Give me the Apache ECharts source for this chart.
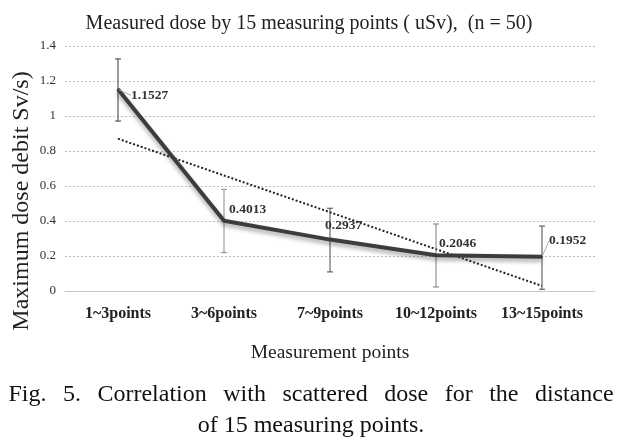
<!DOCTYPE html>
<html><head><meta charset="utf-8">
<script src="https://cdn.jsdelivr.net/npm/echarts@6/dist/echarts.min.js"></script>
<style>html,body{margin:0;padding:0;background:#fff}#c{width:622px;height:443px}</style>
</head><body><div id="c"></div>
<script>
var categories = ['1~3points', '3~6points', '7~9points', '10~12points', '13~15points'];
var doseValues = [1.1527, 0.4013, 0.2937, 0.2046, 0.1952];
var errLow = [0.971, 0.219, 0.109, 0.023, 0.010];
var errHigh = [1.326, 0.581, 0.473, 0.383, 0.371];
var trendValues = [0.870, 0.660, 0.450, 0.239, 0.029];
var yTicks = [0, 0.2, 0.4, 0.6, 0.8, 1, 1.2, 1.4];
var errColors = ['#3a3a3a', '#8a8a8a', '#4a4a4a', '#7a7a7a', '#4a4a4a'];
var labelOffsets = [[12, 6], [4, -11], [-6, -14], [2, -12], [6, -16]];
var leaderShown = [true, false, false, false, true];
var captionLine1 = ['Fig.', '5.', 'Correlation', 'with', 'scattered', 'dose', 'for', 'the', 'distance'];
var captionLine2 = 'of 15 measuring points.';

var serif = '"Liberation Serif", "Times New Roman", serif';
var chart = echarts.init(document.getElementById('c'));

var errData = categories.map(function (c, i) { return [i, errLow[i], errHigh[i]]; });

chart.setOption({
  animation: false,
  title: {
    text: 'Measured dose by 15 measuring points ( uSv),  (n = 50)',
    left: 304, top: 9, textAlign: 'center',
    textStyle: { fontFamily: serif, fontSize: 20, fontWeight: 'normal', color: '#222' }
  },
  grid: { left: 65, right: 27, top: 46, bottom: 152 },
  xAxis: {
    type: 'category', data: categories, boundaryGap: true,
    axisLine: { lineStyle: { color: '#c8c8c8' } },
    axisTick: { show: false },
    axisLabel: { interval: 0, hideOverlap: false, margin: 15, fontFamily: serif, fontSize: 16, fontWeight: 'bold', color: '#222' },
    name: 'Measurement points', nameLocation: 'middle', nameGap: 52,
    nameTextStyle: { fontFamily: serif, fontSize: 19.5, color: '#222' }
  },
  yAxis: {
    type: 'value', min: 0, max: 1.4, interval: 0.2,
    axisLine: { show: false }, axisTick: { show: false },
    axisLabel: { margin: 9, fontFamily: serif, fontSize: 13, color: '#333',
      formatter: function (v) { return String(parseFloat(v.toFixed(1))); } },
    splitLine: { lineStyle: { color: '#bdbdbd', type: [2, 2], width: 1 } }
  },
  graphic: [
    { type: 'text', x: 22, y: 201, rotation: Math.PI / 2,
      style: { text: 'Maximum dose debit Sv/s)', fontFamily: serif, fontSize: 24, fill: '#222',
        align: 'center', verticalAlign: 'middle' } },
    { type: 'text', left: 'center', top: 383,
      style: { text: captionLine1.join('{sp| }'), fontFamily: serif, fontSize: 24, fill: '#111',
        rich: { sp: { width: 16.5, fontFamily: serif, fontSize: 24 } } } },
    { type: 'text', left: 'center', top: 414,
      style: { text: captionLine2, fontFamily: serif, fontSize: 24, fill: '#111' } }
  ],
  series: [
    {
      type: 'line', data: trendValues, symbol: 'none', z: 3,
      lineStyle: { color: '#222', width: 2, type: [2, 2] }
    },
    {
      type: 'custom', z: 4,
      renderItem: function (params, api) {
        var i = api.value(0);
        var top = api.coord([i, api.value(2)]);
        var bot = api.coord([i, api.value(1)]);
        var x = top[0], hw = 3;
        var st = { stroke: errColors[params.dataIndex], lineWidth: 1 };
        return { type: 'group', children: [
          { type: 'line', shape: { x1: x, y1: top[1], x2: x, y2: bot[1] }, style: st },
          { type: 'line', shape: { x1: x - hw, y1: top[1], x2: x + hw, y2: top[1] }, style: st },
          { type: 'line', shape: { x1: x - hw, y1: bot[1], x2: x + hw, y2: bot[1] }, style: st }
        ] };
      },
      data: errData
    },
    {
      type: 'line', z: 5, symbol: 'circle', symbolSize: 2, showSymbol: true,
      itemStyle: { color: '#3c3c3c' },
      data: doseValues.map(function (v, i) {
        return { value: v, labelLine: { show: leaderShown[i] } };
      }),
      lineStyle: { color: '#3c3c3c', width: 4, shadowColor: 'rgba(0,0,0,0.35)', shadowBlur: 4, shadowOffsetY: 3 },
      label: {
        show: true, position: 'right', distance: 0,
        fontFamily: serif, fontSize: 13.5, fontWeight: 'bold', color: '#333',
        formatter: function (p) { return p.value.toFixed(4); }
      },
      labelLine: { show: false, lineStyle: { color: '#aaa', width: 1 } },
      labelLayout: function (p) {
        return { dx: labelOffsets[p.dataIndex][0], dy: labelOffsets[p.dataIndex][1] };
      }
    }
  ]
});
</script></body></html>
